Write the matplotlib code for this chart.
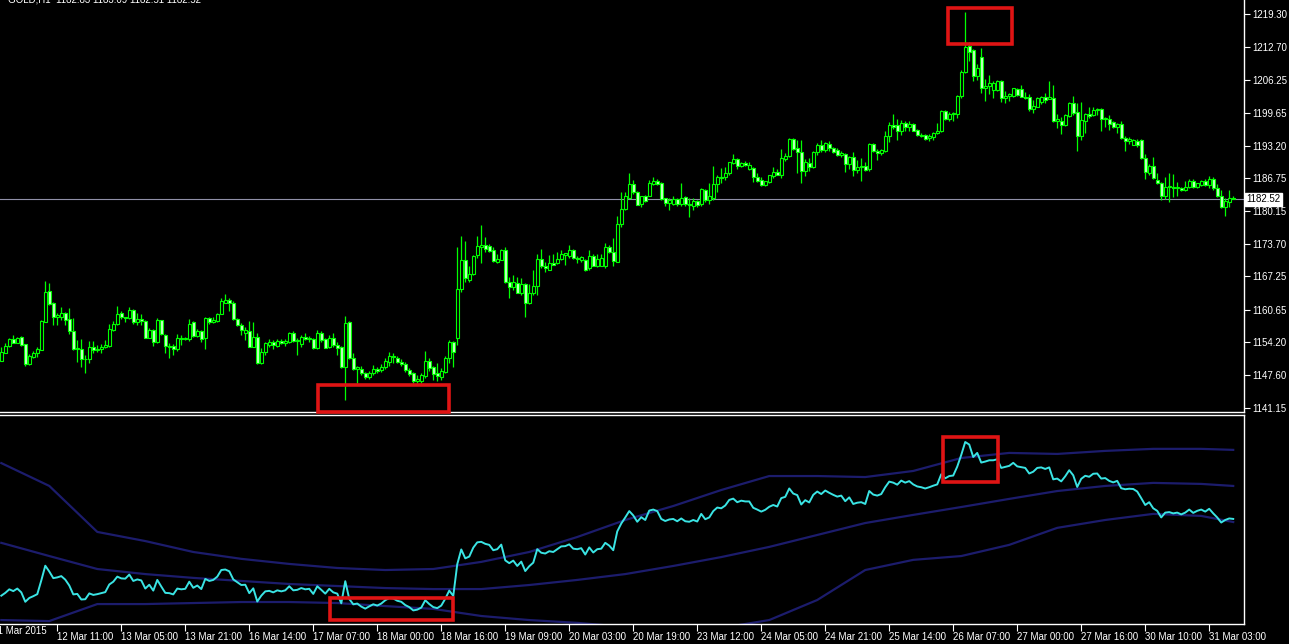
import matplotlib
matplotlib.use("Agg")
import matplotlib.pyplot as plt
import matplotlib.transforms as mtransforms
from matplotlib.patches import Rectangle

plt.rcParams['font.family'] = ['Liberation Sans', 'DejaVu Sans']

# GOLD H1 candles, 11 Mar 21:00 .. 31 Mar 2015
opens = [1150.5, 1152.0, 1153.4, 1154.8, 1154.1, 1155.3, 1153.8, 1149.9, 1151.2, 1152.0,
         1152.6, 1158.1, 1164.3, 1162.0, 1159.2, 1159.2, 1160.0, 1158.7, 1156.3, 1152.8,
         1152.8, 1150.8, 1150.8, 1153.2, 1152.6, 1152.8, 1153.2, 1153.4, 1156.6, 1157.8,
         1160.0, 1159.1, 1158.9, 1160.6, 1158.1, 1158.7, 1158.3, 1155.1, 1156.6, 1154.3,
         1158.5, 1155.7, 1153.4, 1153.4, 1152.8, 1155.0, 1154.8, 1154.8, 1158.1, 1155.5,
         1156.4, 1155.0, 1158.9, 1158.1, 1158.3, 1159.8, 1162.0, 1162.6, 1161.9, 1158.7,
         1157.6, 1156.1, 1156.3, 1153.3, 1155.2, 1150.0, 1152.2, 1153.6, 1154.2, 1153.5,
         1154.4, 1154.0, 1154.2, 1156.0, 1154.4, 1153.8, 1155.2, 1154.8, 1154.8, 1153.0,
         1156.0, 1154.8, 1153.3, 1155.0, 1153.6, 1153.2, 1149.3, 1158.1, 1151.0, 1148.9,
         1148.9, 1148.0, 1147.2, 1148.0, 1148.9, 1148.6, 1149.2, 1150.3, 1151.4, 1151.1,
         1150.3, 1149.8, 1148.7, 1148.0, 1146.5, 1146.4, 1147.4, 1150.5, 1149.2, 1148.0,
         1147.2, 1148.2, 1151.1, 1154.2, 1155.0, 1164.7, 1170.5, 1166.5, 1167.7, 1171.5,
         1173.0, 1173.5, 1173.2, 1172.5, 1170.0, 1170.5, 1172.5, 1166.2, 1165.1, 1166.0,
         1164.0, 1165.7, 1161.9, 1163.9, 1165.3, 1170.6, 1169.3, 1168.6, 1169.8, 1169.8,
         1170.6, 1171.5, 1171.3, 1172.5, 1170.9, 1170.4, 1170.5, 1168.9, 1171.3, 1169.2,
         1169.3, 1169.2, 1173.1, 1172.0, 1170.0, 1177.6, 1180.7, 1182.7, 1185.6, 1184.0,
         1181.6, 1183.2, 1183.1, 1185.6, 1186.2, 1185.8, 1182.7, 1181.7, 1181.6, 1182.5,
         1181.6, 1182.9, 1181.6, 1181.2, 1182.1, 1181.6, 1184.4, 1182.4, 1182.7, 1185.6,
         1187.0, 1186.9, 1187.7, 1189.7, 1190.5, 1189.1, 1189.7, 1188.6, 1188.7, 1186.9,
         1186.4, 1185.4, 1185.9, 1187.1, 1188.0, 1187.4, 1190.6, 1191.2, 1194.5, 1192.7,
         1191.9, 1188.2, 1189.7, 1189.0, 1191.9, 1193.3, 1192.3, 1193.5, 1192.7, 1192.3,
         1191.3, 1191.5, 1189.5, 1191.0, 1188.4, 1188.9, 1189.1, 1188.6, 1193.5, 1192.1,
         1191.7, 1192.1, 1195.0, 1197.2, 1197.2, 1196.0, 1197.6, 1196.8, 1197.4, 1196.3,
         1195.3, 1195.3, 1194.7, 1194.8, 1195.6, 1196.0, 1200.1, 1198.5, 1199.4, 1199.4,
         1203.1, 1207.7, 1213.0, 1212.2, 1206.9, 1210.7, 1204.7, 1205.1, 1204.2, 1204.2,
         1206.0, 1202.6, 1203.0, 1203.0, 1204.4, 1204.4, 1202.9, 1202.8, 1200.4, 1200.9,
         1201.9, 1202.8, 1202.4, 1202.6, 1198.1, 1198.1, 1197.3, 1199.1, 1201.7, 1199.9,
         1195.1, 1198.1, 1199.5, 1199.3, 1200.3, 1200.4, 1198.4, 1198.4, 1197.9, 1196.9,
         1197.5, 1194.6, 1194.2, 1193.3, 1194.2, 1194.3, 1190.7, 1187.8, 1189.1, 1186.4,
         1185.8, 1183.1, 1185.0, 1185.0, 1184.7, 1184.8, 1184.3, 1184.9, 1186.2, 1185.0,
         1185.4, 1186.2, 1185.4, 1186.5, 1184.7, 1183.2, 1181.1, 1181.9, 1182.83]
highs = [1153.2, 1154.0, 1155.0, 1155.7, 1155.3, 1155.4, 1153.8, 1151.8, 1152.5, 1153.2,
         1158.5, 1166.3, 1165.9, 1162.2, 1159.9, 1161.1, 1160.2, 1160.9, 1158.9, 1154.6,
         1154.8, 1151.6, 1154.5, 1154.5, 1153.6, 1153.8, 1154.6, 1157.8, 1158.3, 1161.4,
         1160.4, 1159.1, 1161.1, 1160.7, 1159.9, 1159.8, 1158.5, 1156.9, 1156.7, 1158.9,
         1158.6, 1155.9, 1154.1, 1153.8, 1155.9, 1155.6, 1155.3, 1158.7, 1158.3, 1156.7,
         1156.6, 1159.2, 1159.2, 1159.2, 1159.9, 1162.9, 1163.7, 1162.9, 1162.4, 1158.9,
         1157.9, 1157.1, 1158.4, 1158.1, 1156.0, 1153.1, 1154.3, 1154.8, 1154.6, 1154.8,
         1154.8, 1154.8, 1156.2, 1156.3, 1155.0, 1155.6, 1156.0, 1155.4, 1155.1, 1156.6,
         1156.4, 1155.0, 1155.6, 1156.0, 1154.2, 1153.5, 1159.4, 1158.3, 1152.0, 1149.5,
         1149.5, 1148.2, 1148.5, 1149.6, 1149.2, 1149.8, 1151.0, 1152.3, 1152.0, 1151.5,
         1150.9, 1150.3, 1149.0, 1148.2, 1147.6, 1148.0, 1152.4, 1151.0, 1149.4, 1150.0,
         1149.0, 1151.4, 1154.6, 1154.4, 1173.0, 1175.2, 1174.3, 1169.2, 1171.5, 1175.3,
         1177.4, 1175.1, 1173.6, 1173.1, 1171.7, 1172.6, 1173.0, 1167.2, 1167.5, 1167.2,
         1166.9, 1166.0, 1165.7, 1168.6, 1171.7, 1172.6, 1170.1, 1171.5, 1171.7, 1172.0,
         1172.4, 1171.8, 1173.5, 1172.6, 1171.2, 1171.3, 1170.6, 1172.4, 1171.7, 1171.7,
         1171.7, 1173.8, 1173.5, 1174.8, 1179.2, 1184.0, 1184.0, 1187.8, 1186.4, 1184.2,
         1183.2, 1183.4, 1186.4, 1186.9, 1186.5, 1186.0, 1182.7, 1182.7, 1183.2, 1182.7,
         1185.8, 1183.2, 1182.7, 1182.7, 1182.4, 1184.7, 1184.5, 1185.8, 1189.1, 1187.4,
         1188.7, 1188.9, 1190.0, 1191.5, 1190.7, 1190.0, 1190.2, 1189.9, 1188.9, 1187.7,
         1186.9, 1186.2, 1187.3, 1188.9, 1188.5, 1192.5, 1191.7, 1194.7, 1194.7, 1194.3,
         1194.3, 1190.6, 1190.8, 1192.1, 1193.7, 1194.3, 1193.9, 1194.1, 1193.0, 1192.7,
         1192.1, 1191.7, 1191.2, 1192.0, 1190.4, 1190.7, 1189.9, 1193.7, 1193.7, 1192.5,
         1192.5, 1196.1, 1197.8, 1199.4, 1198.5, 1198.3, 1198.0, 1198.0, 1197.6, 1196.5,
         1195.6, 1195.4, 1195.4, 1195.8, 1197.6, 1200.3, 1200.3, 1199.8, 1199.9, 1203.2,
         1208.2, 1219.6, 1213.7, 1212.4, 1209.3, 1212.6, 1206.4, 1207.1, 1206.0, 1206.2,
         1206.2, 1204.1, 1203.6, 1204.7, 1204.6, 1205.2, 1203.9, 1203.4, 1202.2, 1202.8,
         1203.0, 1203.6, 1206.1, 1205.2, 1199.5, 1198.8, 1199.5, 1201.9, 1203.0, 1201.7,
         1201.9, 1199.7, 1200.9, 1200.8, 1200.6, 1200.6, 1198.8, 1199.3, 1198.1, 1197.6,
         1198.1, 1195.0, 1194.8, 1194.4, 1194.4, 1194.4, 1191.5, 1189.5, 1190.9, 1187.7,
         1186.0, 1186.9, 1187.7, 1187.6, 1186.0, 1185.0, 1186.2, 1186.5, 1186.5, 1185.8,
         1186.4, 1186.5, 1187.2, 1187.0, 1185.6, 1184.3, 1182.7, 1184.3, 1183.09]
lows = [1150.5, 1152.0, 1153.2, 1154.1, 1154.1, 1153.4, 1149.5, 1149.7, 1151.0, 1151.2,
        1152.6, 1158.1, 1161.6, 1157.6, 1157.6, 1158.6, 1157.6, 1155.9, 1152.6, 1150.3,
        1149.3, 1148.0, 1150.1, 1152.0, 1152.3, 1152.0, 1153.0, 1153.3, 1156.3, 1157.6,
        1158.8, 1158.1, 1158.8, 1157.8, 1157.6, 1157.6, 1155.0, 1155.0, 1153.4, 1154.1,
        1155.6, 1152.0, 1151.0, 1151.6, 1152.5, 1153.6, 1154.6, 1154.5, 1155.3, 1155.3,
        1154.3, 1152.8, 1157.8, 1158.0, 1158.1, 1159.7, 1161.9, 1160.4, 1158.5, 1157.3,
        1155.6, 1154.6, 1153.2, 1153.2, 1149.8, 1149.8, 1151.7, 1153.3, 1152.8, 1153.3,
        1153.8, 1153.5, 1154.0, 1154.2, 1151.7, 1153.3, 1154.6, 1154.2, 1152.8, 1152.8,
        1154.2, 1153.0, 1153.0, 1153.3, 1151.7, 1149.0, 1142.7, 1150.8, 1148.7, 1146.1,
        1147.6, 1146.8, 1146.8, 1147.6, 1148.0, 1148.2, 1148.9, 1149.5, 1150.0, 1150.0,
        1149.5, 1148.2, 1147.4, 1146.0, 1146.0, 1146.0, 1147.0, 1148.4, 1146.6, 1146.5,
        1146.6, 1148.0, 1150.0, 1149.3, 1153.6, 1164.2, 1166.2, 1166.2, 1167.5, 1170.8,
        1169.8, 1172.1, 1172.0, 1170.0, 1169.8, 1170.4, 1165.9, 1162.9, 1164.5, 1163.9,
        1163.6, 1159.1, 1161.8, 1163.6, 1163.6, 1168.9, 1168.2, 1168.5, 1169.5, 1169.7,
        1170.5, 1169.5, 1170.8, 1170.6, 1169.8, 1170.0, 1168.4, 1168.5, 1169.2, 1169.0,
        1169.2, 1168.9, 1171.8, 1169.3, 1170.0, 1177.0, 1180.4, 1182.7, 1183.6, 1181.4,
        1181.0, 1181.9, 1183.1, 1185.4, 1185.4, 1182.3, 1181.2, 1180.5, 1181.4, 1181.2,
        1181.2, 1181.2, 1179.0, 1180.4, 1181.0, 1181.2, 1181.9, 1181.6, 1182.4, 1184.0,
        1185.7, 1186.4, 1187.4, 1189.5, 1188.5, 1188.9, 1189.1, 1188.4, 1185.9, 1185.9,
        1185.1, 1185.1, 1185.7, 1186.7, 1187.3, 1186.7, 1190.2, 1191.0, 1192.3, 1187.7,
        1185.7, 1187.1, 1188.2, 1188.7, 1191.3, 1192.0, 1192.0, 1192.1, 1191.7, 1191.2,
        1191.0, 1188.0, 1188.6, 1187.1, 1187.7, 1186.2, 1188.2, 1188.2, 1192.0, 1190.4,
        1191.3, 1192.0, 1194.0, 1196.5, 1194.3, 1195.2, 1196.1, 1196.0, 1196.0, 1195.0,
        1194.8, 1194.3, 1194.1, 1194.3, 1195.4, 1195.8, 1198.3, 1198.1, 1198.1, 1198.7,
        1202.6, 1207.5, 1210.0, 1206.0, 1206.2, 1203.6, 1202.1, 1203.4, 1202.7, 1204.0,
        1201.9, 1201.7, 1202.1, 1202.9, 1203.0, 1202.8, 1202.4, 1200.1, 1199.7, 1200.8,
        1201.4, 1201.7, 1202.4, 1197.9, 1196.6, 1195.5, 1197.1, 1198.8, 1199.3, 1192.2,
        1194.3, 1195.6, 1198.6, 1199.1, 1199.3, 1196.0, 1196.9, 1196.3, 1196.6, 1195.6,
        1194.4, 1192.2, 1193.5, 1193.3, 1192.9, 1190.5, 1186.5, 1187.4, 1186.5, 1185.6,
        1182.4, 1182.6, 1181.9, 1182.9, 1183.1, 1184.1, 1184.1, 1184.7, 1184.7, 1184.7,
        1185.2, 1185.2, 1184.7, 1184.3, 1182.9, 1180.9, 1179.2, 1181.1, 1182.51]
closes = [1152.3, 1153.4, 1154.8, 1154.1, 1155.1, 1153.6, 1149.9, 1151.4, 1152.1, 1152.9,
          1158.3, 1164.1, 1161.8, 1159.2, 1159.5, 1160.0, 1158.6, 1156.3, 1152.8, 1153.0,
          1150.8, 1150.9, 1153.2, 1152.6, 1152.9, 1153.3, 1153.7, 1156.7, 1157.8, 1159.8,
          1159.1, 1159.0, 1160.6, 1158.1, 1158.7, 1158.3, 1155.1, 1156.6, 1154.3, 1158.5,
          1155.9, 1153.4, 1153.3, 1152.8, 1155.1, 1154.8, 1155.0, 1157.8, 1155.4, 1156.3,
          1154.9, 1158.9, 1158.1, 1158.5, 1159.8, 1162.4, 1162.6, 1161.9, 1158.7, 1157.6,
          1156.5, 1156.6, 1153.3, 1155.2, 1150.0, 1152.3, 1154.0, 1154.2, 1153.6, 1154.4,
          1154.0, 1154.4, 1156.0, 1154.4, 1154.6, 1155.3, 1154.8, 1155.0, 1153.0, 1156.0,
          1154.6, 1153.1, 1155.0, 1153.6, 1153.1, 1149.3, 1158.0, 1151.0, 1148.9, 1149.2,
          1148.0, 1147.2, 1148.1, 1148.9, 1148.4, 1149.2, 1150.5, 1151.4, 1151.2, 1150.3,
          1149.9, 1148.6, 1147.8, 1146.5, 1146.8, 1147.6, 1150.5, 1149.0, 1147.8, 1147.4,
          1148.4, 1151.1, 1154.3, 1152.2, 1164.7, 1170.5, 1167.0, 1167.7, 1171.2, 1173.3,
          1173.5, 1172.7, 1172.3, 1170.2, 1170.6, 1172.4, 1166.2, 1165.1, 1166.1, 1164.0,
          1165.7, 1162.0, 1163.9, 1165.3, 1170.6, 1169.2, 1168.9, 1169.8, 1169.5, 1170.6,
          1171.7, 1171.8, 1172.5, 1170.8, 1170.6, 1171.0, 1168.5, 1171.3, 1169.3, 1170.6,
          1170.8, 1173.1, 1172.0, 1170.2, 1177.6, 1180.7, 1183.1, 1185.6, 1183.9, 1181.4,
          1183.2, 1182.1, 1185.8, 1186.2, 1185.6, 1182.5, 1181.7, 1182.3, 1182.5, 1181.6,
          1182.7, 1181.6, 1181.4, 1182.1, 1181.5, 1184.5, 1182.4, 1183.1, 1185.6, 1187.0,
          1186.7, 1187.8, 1190.0, 1190.5, 1189.1, 1189.7, 1189.4, 1189.4, 1186.9, 1186.2,
          1185.4, 1186.1, 1187.3, 1188.0, 1187.4, 1190.7, 1191.2, 1194.5, 1192.5, 1191.9,
          1188.2, 1189.9, 1189.0, 1192.0, 1193.3, 1192.3, 1193.7, 1192.8, 1192.0, 1191.3,
          1191.7, 1189.5, 1191.0, 1188.4, 1188.9, 1189.1, 1188.4, 1193.5, 1192.1, 1191.7,
          1192.3, 1195.0, 1197.2, 1196.8, 1196.0, 1197.6, 1196.8, 1197.4, 1196.1, 1195.3,
          1195.0, 1194.5, 1195.0, 1195.6, 1196.1, 1200.1, 1198.5, 1199.4, 1199.6, 1203.1,
          1207.7, 1212.8, 1211.8, 1206.9, 1208.5, 1204.7, 1205.1, 1205.6, 1205.6, 1206.0,
          1202.6, 1203.0, 1203.4, 1204.6, 1203.2, 1202.9, 1202.6, 1200.4, 1201.1, 1202.6,
          1202.8, 1202.2, 1202.8, 1198.1, 1198.4, 1197.3, 1199.3, 1201.7, 1199.7, 1195.1,
          1198.3, 1199.5, 1199.1, 1200.3, 1200.4, 1198.4, 1198.6, 1197.5, 1196.9, 1197.5,
          1194.6, 1194.2, 1194.4, 1194.3, 1193.3, 1190.7, 1188.0, 1189.1, 1186.7, 1185.7,
          1183.1, 1185.0, 1185.2, 1184.7, 1185.0, 1184.3, 1185.0, 1186.2, 1184.9, 1185.7,
          1186.2, 1185.4, 1186.5, 1184.7, 1183.1, 1181.1, 1182.1, 1182.7, 1182.52]

# bands of the lower window, read every 12 bars
band_idx = [0, 12, 24, 36, 48, 60, 72, 84, 96, 108, 120, 132, 144, 156, 168, 180,
            192, 204, 216, 228, 240, 252, 264, 276, 288, 300, 308]
band_up = [1204.5, 1195.5, 1177.4, 1173.8, 1169.5, 1166.8, 1164.8, 1163.2, 1162.4, 1162.8,
           1165.6, 1169.5, 1175.4, 1182.1, 1187.6, 1193.9, 1199.4, 1199.4, 1199.0, 1201.4,
           1206.5, 1208.5, 1208.1, 1209.3, 1210.1, 1210.1, 1209.7]
band_mid = [1173.1, 1167.9, 1162.8, 1160.8, 1159.3, 1158.1, 1156.9, 1156.1, 1155.3, 1154.9,
            1154.9, 1156.5, 1158.5, 1160.8, 1164.0, 1167.5, 1171.5, 1176.2, 1180.9, 1184.1,
            1187.2, 1190.4, 1193.5, 1195.5, 1196.7, 1196.3, 1195.5]
band_low = [1142.7, 1142.3, 1149.0, 1149.0, 1149.4, 1149.8, 1149.8, 1149.4, 1148.2, 1147.1,
            1144.3, 1142.7, 1141.6, 1140.0, 1139.6, 1139.6, 1142.7, 1150.6, 1162.4, 1166.4,
            1167.9, 1172.3, 1179.0, 1182.1, 1184.5, 1183.7, 1181.3]

price_ticks = [1141.15, 1147.60, 1154.20, 1160.65, 1167.25, 1173.70, 1180.15,
               1186.75, 1193.20, 1199.65, 1206.25, 1212.70, 1219.30]
time_idx = [14, 30, 46, 62, 78, 94, 110, 126, 142, 158, 174, 190, 206, 222, 238, 254, 270, 286, 302]
time_labels = ['12 Mar 11:00', '13 Mar 05:00', '13 Mar 21:00', '16 Mar 14:00', '17 Mar 07:00',
               '18 Mar 00:00', '18 Mar 16:00', '19 Mar 09:00', '20 Mar 03:00', '20 Mar 19:00',
               '23 Mar 12:00', '24 Mar 05:00', '24 Mar 21:00', '25 Mar 14:00', '26 Mar 07:00',
               '27 Mar 00:00', '27 Mar 16:00', '30 Mar 10:00', '31 Mar 03:00']
bid = 1182.52

fig = plt.figure(figsize=(12.89, 6.44), dpi=100, facecolor='black')
ax1 = fig.add_axes([0, 0.3595, 0.9651, 0.6405], facecolor='black')
ax2 = fig.add_axes([0, 0.0311, 0.9651, 0.3250], facecolor='black')

x = list(range(len(closes)))
green = '#00ff00'

# candles
ax1.vlines(x, lows, highs, color=green, linewidth=0.9, zorder=2)
bodies = [max(abs(c - o), 0.08) for o, c in zip(opens, closes)]
bottoms = [min(o, c) for o, c in zip(opens, closes)]
fills = ['black' if c >= o else '#c4ffc4' for o, c in zip(opens, closes)]
ax1.bar(x, bodies, bottom=bottoms, width=0.72, color=fills, edgecolor=green,
        linewidth=0.8, zorder=3)

ax1.axhline(bid, color='#9090a8', linewidth=0.8, zorder=1)
ax1.text(1.002, bid, '%.2f' % bid, transform=mtransforms.blended_transform_factory(ax1.transAxes, ax1.transData),
         ha='left', va='center', fontsize=7, color='black',
         bbox=dict(facecolor='white', edgecolor='white', pad=1.2), clip_on=False, zorder=6)

ax1.set_xlim(-0.325, 310.7)
ax1.set_ylim(1140.23, 1222.08)
ax1.set_xticks([])
ax1.yaxis.tick_right()
ax1.set_yticks(price_ticks)
ax1.set_yticklabels(['%.2f' % v for v in price_ticks])
ax1.tick_params(axis='y', colors='white', labelsize=7, length=4, width=0.8, pad=2)

# lower window
ax2.plot(band_idx, band_up, color='#1c1c6c', linewidth=1.6)
ax2.plot(band_idx, band_mid, color='#1c1c6c', linewidth=1.6)
ax2.plot(band_idx, band_low, color='#1c1c6c', linewidth=1.6)
ax2.plot(x, closes, color='#3ae4e4', linewidth=1.4)
ax2.set_xlim(-0.325, 310.7)
ax2.set_ylim(1141.16, 1223.56)
ax2.set_yticks([])
ax2.set_xticks(time_idx)
ax2.set_xticklabels(time_labels, ha='left')
ax2.tick_params(axis='x', colors='white', labelsize=7, length=5, width=0.8, pad=1)
ax2.text(-2, -0.012, '11 Mar 2015', transform=mtransforms.blended_transform_factory(ax2.transData, ax2.transAxes),
         ha='left', va='top', fontsize=7, color='white', clip_on=False)

for ax in (ax1, ax2):
    ax.spines['left'].set_visible(False)
    for s in ('top', 'right', 'bottom'):
        ax.spines[s].set_color('white')
        ax.spines[s].set_linewidth(1.0)
ax1.spines['top'].set_visible(False)

# red marks
red = '#e01414'
ax1.add_patch(Rectangle((236.7, 1213.35), 16.0, 7.15, fill=False, edgecolor=red, linewidth=2.6, zorder=5, clip_on=False))
ax1.add_patch(Rectangle((79.2, 1140.33), 32.7, 5.37, fill=False, edgecolor=red, linewidth=2.6, zorder=5, clip_on=False))
ax2.add_patch(Rectangle((235.4, 1197.1), 13.8, 17.7, fill=False, edgecolor=red, linewidth=2.6, zorder=5, clip_on=False))
ax2.add_patch(Rectangle((82.2, 1142.7), 30.7, 8.7, fill=False, edgecolor=red, linewidth=2.6, zorder=5, clip_on=False))

fig.text(0.006, 1 - 2 / 644, 'GOLD,H1  1182.83 1183.09 1182.51 1182.52', color='white',
         fontsize=7, va='baseline', ha='left')

plt.savefig('out.png', dpi=100, facecolor='black')
